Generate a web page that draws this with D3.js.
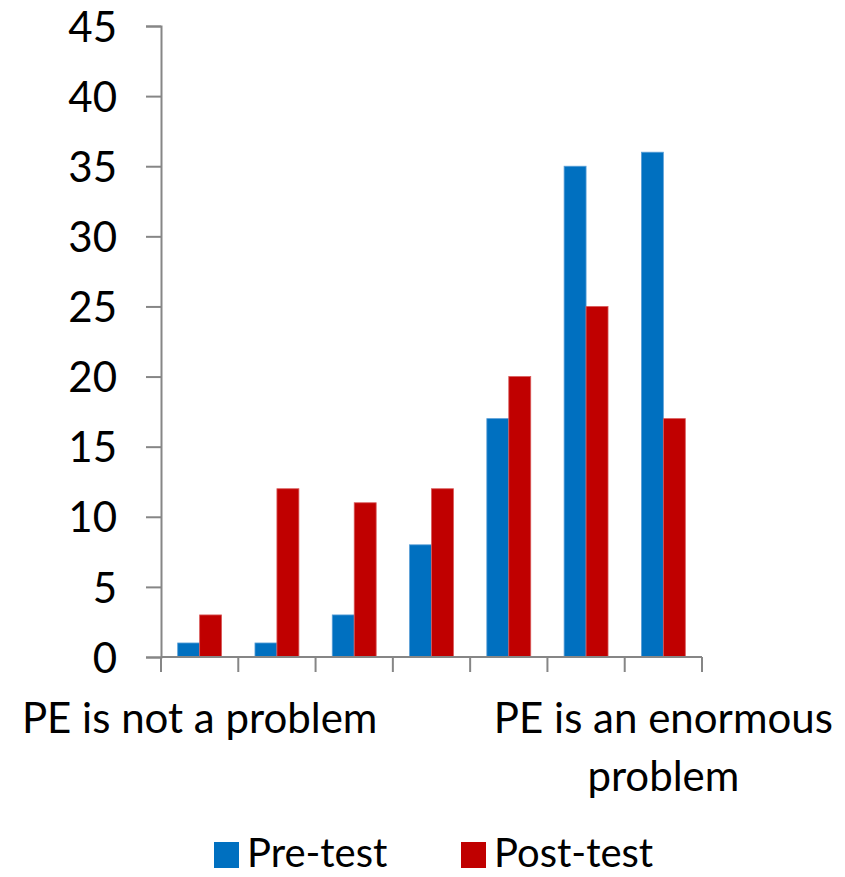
<!DOCTYPE html>
<html>
<head>
<meta charset="utf-8">
<script src="https://cdn.jsdelivr.net/npm/d3@7"></script>
<style>
  body { margin: 0; background: #fff; }
  text { font-family: Lato, "Open Sans", sans-serif; fill: #000; }
</style>
</head>
<body>
<svg id="chart" width="845" height="877"></svg>
<script>
// chart data
var categories = ['1', '2', '3', '4', '5', '6', '7'];
var catLabels = ['PE is not a problem', '', '', '', '', '', 'PE is an enormous|problem'];
var seriesNames = ['Pre-test', 'Post-test'];
var preTest = [1, 1, 3, 8, 17, 35, 36];
var postTest = [3, 12, 11, 12, 20, 25, 17];
var yTicks = [0, 5, 10, 15, 20, 25, 30, 35, 40, 45];

var colors = ['#0070c0', '#c00000'];
var edges = ['#5a9fd6', '#d95a5a'];

var svg = d3.select('#chart');
var plotLeft = 161, plotRight = 702, plotTop = 26, plotBottom = 657;

var x = d3.scaleBand().domain(categories).range([plotLeft, plotRight]).padding(0);
var x1 = d3.scaleBand().domain(seriesNames).range([0, x.bandwidth()]).paddingInner(0).paddingOuter(0.76);
var y = d3.scaleLinear().domain([0, 45]).range([plotBottom, plotTop]);

// y axis
var yAxis = svg.append('g').attr('transform', 'translate(' + plotLeft + ',0)')
  .call(d3.axisLeft(y).tickValues(yTicks).tickSize(15).tickPadding(29));
yAxis.select('.domain').attr('stroke', '#868686').attr('stroke-width', 2);
yAxis.selectAll('.tick line').attr('stroke', '#868686').attr('stroke-width', 2);
yAxis.selectAll('.tick text').style('font-size', '42px').style('font-family', 'Lato, sans-serif').attr('fill', '#000').attr('dy', '0.36em');

// bars
var rows = categories.map(function(c, i){ return {cat: c, vals: [preTest[i], postTest[i]]}; });
var groups = svg.append('g').selectAll('g').data(rows).enter().append('g')
  .attr('transform', function(d){ return 'translate(' + x(d.cat) + ',0)'; });
groups.selectAll('rect').data(function(d){ return d.vals.map(function(v, j){ return {s: seriesNames[j], v: v, j: j}; }); })
  .enter().append('rect')
  .attr('x', function(d){ return x1(d.s); })
  .attr('width', x1.bandwidth())
  .attr('y', function(d){ return y(d.v); })
  .attr('height', function(d){ return y(0) - y(d.v); })
  .attr('fill', function(d){ return colors[d.j]; })
  .attr('stroke', function(d){ return edges[d.j]; })
  .attr('stroke-width', 0.8);

// x axis
var xAxis = svg.append('g').attr('transform', 'translate(0,' + plotBottom + ')');
xAxis.append('line').attr('x1', plotLeft).attr('x2', plotRight).attr('y1', 0).attr('y2', 0)
  .attr('stroke', '#868686').attr('stroke-width', 2);
var bounds = categories.map(function(c){ return x(c); }).concat([plotRight]);
xAxis.selectAll('line.tk').data(bounds).enter().append('line').attr('class', 'tk')
  .attr('x1', function(d){ return d; }).attr('x2', function(d){ return d; })
  .attr('y1', 0).attr('y2', 15)
  .attr('stroke', '#868686').attr('stroke-width', 2);

// category labels
categories.forEach(function(c, i){
  if (!catLabels[i]) return;
  var cx = x(c) + x.bandwidth() / 2;
  var t = svg.append('text').attr('text-anchor', 'middle').style('font-size', '42px')
    .attr('x', cx).attr('y', 733);
  catLabels[i].split('|').forEach(function(line, k){
    t.append('tspan').attr('x', cx).attr('dy', k ? 58 : 0).text(line);
  });
});

// legend
var legendX = [214, 461];
var legend = svg.append('g').selectAll('g').data(seriesNames).enter().append('g')
  .attr('transform', function(d, i){ return 'translate(' + legendX[i] + ',842)'; });
legend.append('rect').attr('width', 25).attr('height', 26)
  .attr('fill', function(d, i){ return colors[i]; });
legend.append('text').attr('x', 33).attr('y', 25).style('font-size', '40px').text(function(d){ return d; });
</script>
</body>
</html>
